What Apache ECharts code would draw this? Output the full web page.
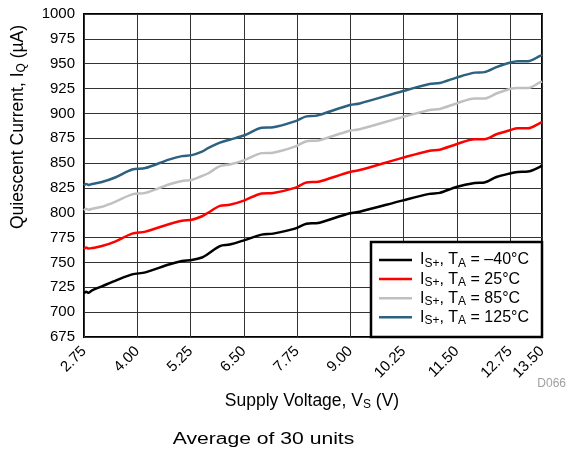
<!DOCTYPE html>
<html>
<head>
<meta charset="utf-8">
<script src="https://cdn.jsdelivr.net/npm/echarts@6/dist/echarts.min.js"></script>
<style>
  html, body { margin: 0; padding: 0; background: #fff; }
  #chart { width: 568px; height: 453px; }
</style>
</head>
<body>
<div id="chart"></div>
<script>
// ---- data ----
const voltage = [2.75, 2.80, 2.86, 2.94, 3.17, 3.48, 3.88, 4.19, 4.74, 5.05, 5.28, 5.52, 5.66, 5.94, 6.17, 6.52, 6.92, 7.19, 7.70, 7.97, 8.17, 8.28, 8.99, 9.22, 10.24, 10.86, 11.10, 11.49, 11.92, 12.15, 12.43, 12.74, 12.93, 13.17, 13.44, 13.50];
const iqMinus40 = [719, 720.5, 719.5, 722, 726, 731.5, 738, 740, 748, 751.5, 752.5, 755, 758.5, 766.5, 768, 772.5, 778, 779, 784, 789, 789.5, 790, 799.5, 801, 812.5, 819, 820, 826, 830, 830.5, 836, 839.5, 841, 841.5, 846, 848];
const iq25 = [763.5, 765, 764, 764.5, 766.5, 771, 779, 781, 788.5, 792, 793, 796.5, 800, 807, 808, 812.5, 819.5, 820, 825, 830.5, 831, 831.5, 841, 843, 855.5, 862.5, 863.5, 869, 874, 874, 879, 883, 885, 885, 890, 891.5];
const iq85 = [802.5, 804, 803, 804, 806, 811, 818.5, 820, 828.5, 832, 833, 837, 839.5, 847, 848.5, 853, 860, 860.5, 866.5, 872, 872.5, 873, 882.5, 884, 896.5, 903.5, 904.5, 910, 915, 915, 920, 924.5, 925.5, 925.5, 931, 932];
const iq125 = [827.5, 829, 828, 829, 831, 835.5, 843.5, 845, 853.5, 857, 858, 861.5, 865, 870.5, 873.5, 878, 885.5, 886, 892, 897, 897.5, 898.5, 908.5, 910, 922.5, 929.5, 930.5, 936, 941, 941.5, 946.5, 951, 952.5, 952.5, 957.5, 959];
const tempLabels = ['–40', '25', '85', '125'];
const xStart = 2.75, xEnd = 13.50, xStep = 1.25;
const yMin = 675, yMax = 1000, yStep = 25;

const seriesValues = [iqMinus40, iq25, iq85, iq125];
const seriesColors = ['#000000', '#ff0000', '#c0c0c0', '#2d6180'];
const seriesNames = tempLabels.map(t => 'IS+, TA = ' + t + '°C');

const FONT = "'Liberation Sans', Arial, Helvetica, sans-serif";

const chart = echarts.init(document.getElementById('chart'), null, { renderer: 'canvas' });

const series = seriesValues.map((vals, i) => ({
  name: seriesNames[i],
  type: 'line',
  data: voltage.map((v, k) => [v - xStart, vals[k]]),
  symbol: 'none',
  showSymbol: false,
  smooth: 0.3,
  color: seriesColors[i],
  lineStyle: { color: seriesColors[i], width: 2.5 },
  z: 2 + i
}));

const legendRich = {
  n: { fontSize: 16, color: '#000', fontFamily: FONT },
  s: { fontSize: 12, color: '#000', fontFamily: FONT, padding: [7, 0, 0, 0] }
};
const nameRich = {
  n: { fontSize: 17.5, fill: '#000', fontFamily: FONT },
  s: { fontSize: 12, fill: '#000', fontFamily: FONT, padding: [7, 0, 0, 0] }
};

chart.setOption({
  animation: false,
  backgroundColor: '#fff',
  grid: {
    left: 84, right: 26, top: 14, bottom: 116,
    show: true, borderColor: '#000', borderWidth: 2, backgroundColor: 'transparent'
  },
  xAxis: {
    type: 'value',
    min: 0, max: xEnd - xStart, interval: xStep,
    axisLine: { show: false },
    axisTick: { show: false },
    splitLine: { show: true, lineStyle: { color: '#333', width: 1 } },
    axisLabel: {
      rotate: 45, fontSize: 15, color: '#000', fontFamily: FONT, margin: 12,
      showMinLabel: true, showMaxLabel: true,
      formatter: v => (v + xStart).toFixed(2)
    }
  },
  yAxis: {
    type: 'value',
    min: yMin, max: yMax, interval: yStep,
    axisLine: { show: false },
    axisTick: { show: false },
    splitLine: { show: true, lineStyle: { color: '#333', width: 1 } },
    axisLabel: { fontSize: 15, color: '#000', fontFamily: FONT, margin: 9, formatter: v => String(v) }
  },
  legend: {
    orient: 'vertical',
    left: 379, top: 252,
    padding: 0,
    itemGap: 1.6,
    itemWidth: 33, itemHeight: 19,
    icon: 'path://M0,0H33V2.5H0Z',
    z: 20,
    data: seriesNames,
    formatter: name => {
      const t = tempLabels[seriesNames.indexOf(name)];
      return '{n|I}{s|S+}{n|, T}{s|A}{n| = ' + t + '°C}';
    },
    textStyle: { fontSize: 16, color: '#000', fontFamily: FONT, padding: [0, 0, 0, 3], rich: legendRich }
  },
  graphic: [
    {
      type: 'rect', z: 10,
      shape: { x: 371, y: 242, width: 171, height: 95 },
      style: { fill: '#fff', stroke: '#000', lineWidth: 2.5 }
    },
    {
      type: 'text', x: 18, y: 127, rotation: Math.PI / 2, z: 10,
      style: {
        text: '{n|Quiescent Current, I}{s|Q}{n| (µA)}',
        rich: nameRich, align: 'center', verticalAlign: 'middle',
        fontSize: 17.5, fontFamily: FONT, fill: '#000'
      }
    },
    {
      type: 'text', x: 312, y: 401, z: 10,
      style: {
        text: '{n|Supply Voltage, V}{s|S}{n| (V)}',
        rich: nameRich, align: 'center', verticalAlign: 'middle',
        fontSize: 17, fontFamily: FONT, fill: '#000'
      }
    },
    {
      type: 'text', x: 566, y: 384, z: 10,
      style: {
        text: 'D066', align: 'right', verticalAlign: 'middle',
        fontSize: 12, fontFamily: FONT, fill: '#a0a0a0'
      }
    },
    {
      type: 'text', x: 263.5, y: 440, scaleX: 1.32, z: 10,
      style: {
        text: 'Average of 30 units', align: 'center', verticalAlign: 'middle',
        fontSize: 16, fontFamily: FONT, fill: '#000'
      }
    }
  ],
  series: series
});
</script>
</body>
</html>
